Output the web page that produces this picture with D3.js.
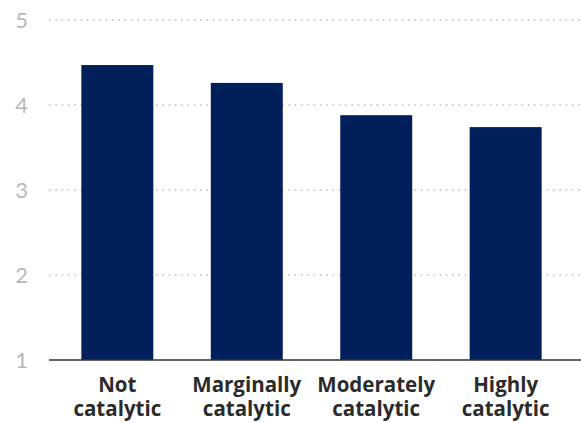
<!DOCTYPE html>
<html><head><meta charset="utf-8">
<script src="https://cdn.jsdelivr.net/npm/d3@7"></script>
<style>body{margin:0;background:#fff;} svg{display:block;}</style>
</head><body>
<svg id="c" width="581" height="423"></svg>
<script>
const categories = [["Not","catalytic"],["Marginally","catalytic"],["Moderately","catalytic"],["Highly","catalytic"]];
const values = [4.47, 4.26, 3.88, 3.74];
const yTicks = [1, 2, 3, 4, 5];

const svg = d3.select("#c");
const keys = categories.map(c => c.join(" "));
const x = d3.scaleBand().domain(keys).range([49, 574]).paddingInner(0.444).paddingOuter(0.25);
const y = d3.scaleLinear().domain([1, 5]).range([360, 20]);

// gridlines
svg.append("g").selectAll("line").data(yTicks.filter(t => t > 1)).join("line")
  .attr("x1", 49).attr("x2", 581)
  .attr("y1", d => y(d)).attr("y2", d => y(d))
  .attr("stroke", "#b9bcb9").attr("stroke-width", 1.5)
  .attr("stroke-dasharray", "1.5,4.8");

// y tick labels
svg.append("g").selectAll("text").data(yTicks).join("text")
  .attr("x", 28).attr("y", d => y(d)).attr("dy", "0.36em")
  .attr("text-anchor", "end")
  .attr("font-family", "Lato, sans-serif").attr("font-weight", 400)
  .attr("font-size", 22).attr("fill", "#b5b9b5")
  .text(d => d);

// bars
svg.append("g").selectAll("rect").data(values).join("rect")
  .attr("x", (d, i) => x(keys[i]))
  .attr("width", x.bandwidth())
  .attr("y", d => y(d))
  .attr("height", d => y(1) - y(d))
  .attr("fill", "#001f5b");

// axis line
svg.append("line").attr("x1", 49).attr("x2", 581)
  .attr("y1", y(1)).attr("y2", y(1))
  .attr("stroke", "#333").attr("stroke-width", 1.5);

// category labels
const lab = svg.append("g").selectAll("text").data(categories).join("text")
  .attr("x", (d, i) => x(keys[i]) + x.bandwidth() / 2)
  .attr("y", 392)
  .attr("text-anchor", "middle")
  .attr("font-family", "'Open Sans', sans-serif").attr("font-weight", 700)
  .attr("font-size", 20.5).attr("fill", "#2b2b2b");
lab.selectAll("tspan").data(d => d).join("tspan")
  .attr("x", function() { return this.parentNode.getAttribute("x"); })
  .attr("dy", (d, i) => i === 0 ? 0 : 24)
  .text(d => d);
</script>
</body></html>
